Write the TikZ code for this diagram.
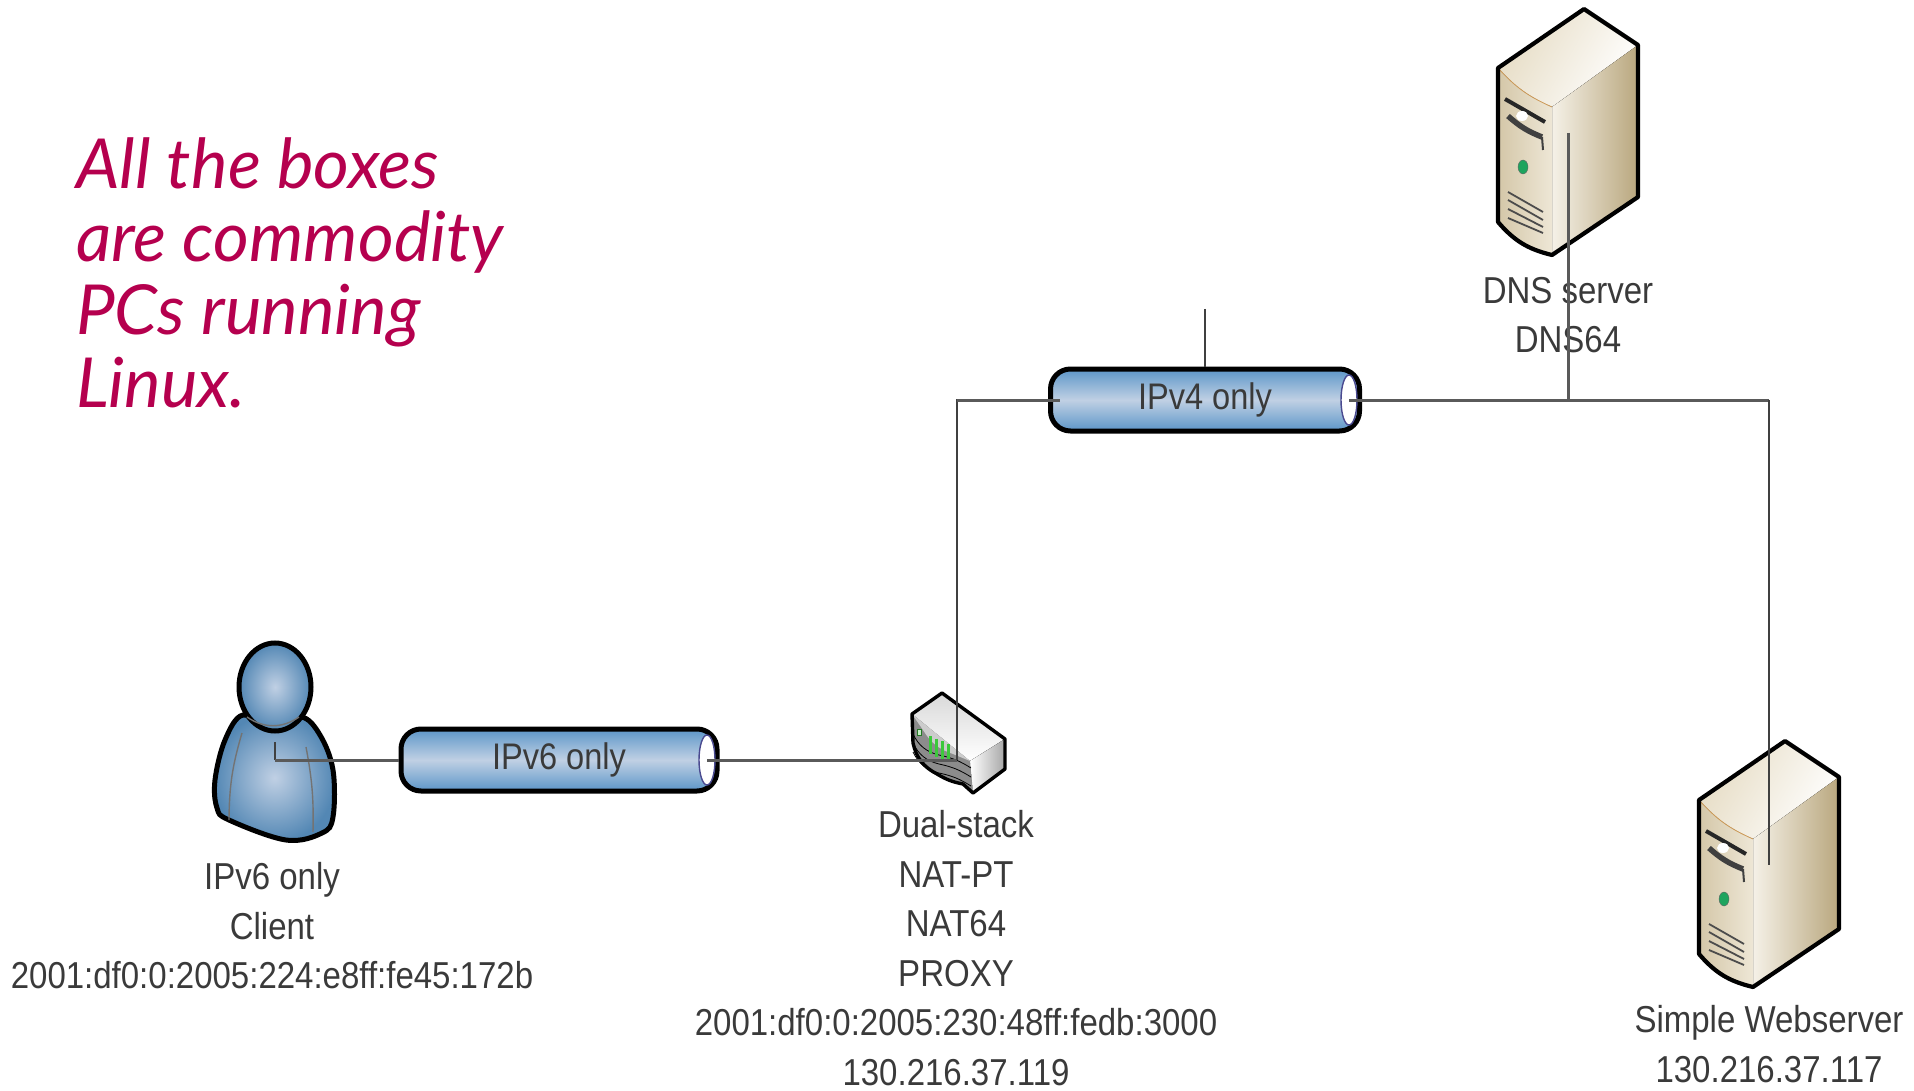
\documentclass[tikz,border=0pt]{standalone}
\usepackage{fontspec}
\usetikzlibrary{positioning,shapes.geometric}
\newfontfamily\labelfont[FakeStretch=0.88]{Liberation Sans}
\newfontfamily\notefont{Lato Italic}
\definecolor{netTexto}{HTML}{3A3A3A}
\definecolor{netCable}{HTML}{5A5A5A}
\definecolor{netAzul}{HTML}{5C96C8}
\definecolor{netClaro}{HTML}{C0D0E4}
\definecolor{netNota}{HTML}{B5004E}
\definecolor{netCrema}{HTML}{E6DCC4}
\definecolor{netOcre}{HTML}{B9A77E}
\definecolor{netVerde}{HTML}{3CC83C}
\definecolor{netMorado}{HTML}{4A4A90}
\tikzset{
  server/.pic={
    \fill[top color=netCrema, bottom color=white, shading angle=60] (-70,-65) -- (16,-124) -- (70,-88) -- (-16,-26) to[bend left=12] cycle;
    \fill[left color=white!60!netCrema, right color=netOcre] (-16,-26) -- (70,-88) -- (70,64) -- (-16,122) -- cycle;
    \fill[left color=netCrema!60!netOcre, right color=netCrema!70!white] (-70,-65) to[bend right=12] (-16,-26) -- (-16,122) to[bend left=18] (-70,89) -- cycle;
    \draw[netOcre!70!orange, thick] (-70,-65) to[bend right=12] (-16,-26);
    \draw[black, line width=4.2pt, line join=round, fill=none] (-70,-65) -- (16,-124) -- (70,-88) -- (70,64) -- (-16,122) to[bend left=18] (-70,89) -- cycle;
    \draw[black!85, line width=4pt] (-63,-34) -- (-23,-11);
    \draw[black!75, line width=5.5pt] (-60,-17) to[bend right=10] (-26,4);
    \draw[black!75, line width=2pt] (-26,4) -- (-25,17);
    \fill[white] (-46,-17) ellipse (6 and 5);
    \draw[black!60, fill=netVerde!50!teal] (-45,34) ellipse (5 and 7);
    \foreach \ly/\ry in {59/79,67/87,76/94,85/100}
      \draw[black!70, line width=1.8pt] (-60,\ly) -- (-25,\ry);
  },
  router/.pic={
    \fill[top color=white!85!black, bottom color=white] (-45,-46) -- (-15,-67) -- (48,-21) -- (13,1) -- cycle;
    \fill[left color=white, right color=black!35] (13,1) -- (48,-21) -- (48,9) -- (16,33) -- cycle;
    \fill[black!45] (-45,-46) -- (13,1) -- (16,33) -- (6,24) to[bend left=10] (-20,14) to[bend left=25] (-44,-17) -- cycle;
    \fill[white!80!black] (-34,-30) to[bend right=20] (-4,-6) -- (13,1) -- (-45,-46) -- cycle;
    \foreach \gy in {0,9,18}
      \draw[black, thick] (-44,{-26+\gy}) to[bend right=25] (-18,{-5+\gy}) to[bend left=10] (14,{8+\gy});
    \foreach \gx in {-27,-21,-15,-9}
      \draw[netVerde, line width=3pt] (\gx,{-24+(\gx+27)*.45}) -- (\gx,{-6+(\gx+27)*.45});
    \draw[netVerde!60!black, thick, fill=netVerde!30] (-40,-31) rectangle (-36,-25);
    \draw[black, line width=3.4pt, line join=round] (-45,-46) -- (-15,-67) -- (48,-21) -- (48,9) -- (16,33) -- (6,24) to[bend left=10] (-20,14) to[bend left=25] (-44,-17) -- cycle;
  },
  person/.pic={
    \shadedraw[inner color=netClaro, outer color=netAzul!90!black, draw=black, line width=5pt]
      plot[smooth cycle, tension=.6] coordinates {(-32,-45) (-50,-20) (-60,20) (-58,48) (-46,60) (11,80) (47,73) (58,57) (58,10) (45,-25) (26,-43) (-3,-30)};
    \draw[black!55, line width=1.4pt] (-33,-27) to[bend right=8] (-46,60);
    \draw[black!55, line width=1.4pt] (31,-13) to[bend left=6] (38,72);
    \shadedraw[inner color=netClaro, outer color=netAzul!90!black, draw=black, line width=5pt] (0,-73) ellipse (36 and 44);
    \draw[black!55, line width=1.4pt] (-28,-43) to[bend right=35] (24,-43);
  }
}
\begin{document}
\begin{tikzpicture}[x=1pt, y=-1pt,
      tube/.style={rounded corners=20pt, draw=black, line width=5pt,
                   minimum width=#1, minimum height=62pt, inner sep=0pt,
                   top color=netAzul, bottom color=netAzul, middle color=netClaro,
                   text=netTexto, font=\labelfont\fontsize{37}{44}\selectfont},
      lbl/.style={align=center, inner sep=0pt, text=netTexto,
                  font=\labelfont\fontsize{37.5}{49.5}\selectfont},
      wire/.style={draw=netCable, line width=3pt},
      hilo/.style={draw=black!75, line width=2pt},
      boca/.style={draw=netMorado, fill=white, line width=1.4pt, ellipse, minimum width=16pt, minimum height=50pt, inner sep=0pt}]
    \useasboundingbox (0,0) rectangle (1914,1091);

    \node[lbl, anchor=north west, text=netNota, align=left,
          font=\notefont\fontsize{69}{73.3}\selectfont] (nota) at (76,137)
          {All the boxes\\are commodity\\PCs running\\Linux.};

    \coordinate (client) at (275,760);
    \coordinate (router) at (957,760);
    \coordinate (dns) at (1568,133);
    \coordinate (web) at (1769,865);

    \pic at (client) {person};
    \pic at (router) {router};
    \pic at (dns) {server};
    \pic at (web) {server};

    \node[tube=316pt] (v6) at (559,760) {IPv6 only};
    \node[tube=309pt] (v4) at (1205,400) {IPv4 only};
    \node[boca] (v6end) at (707,760) {};
    \node[boca] (v4end) at (1349,400) {};

    \node[lbl] (clientlbl) at (272,926) {IPv6 only\\Client\\2001:df0:0:2005:224:e8ff:fe45:172b};
    \node[lbl] (routerlbl) at (956,948) {Dual-stack\\NAT-PT\\NAT64\\PROXY\\2001:df0:0:2005:230:48ff:fedb:3000\\130.216.37.119};
    \node[lbl] (dnslbl) at (1568,315) {DNS server\\DNS64};
    \node[lbl] (weblbl) at (1769,1044) {Simple Webserver\\130.216.37.117};

    \coordinate (v4top) at (1205,309);
    \coordinate (junction) at (1568,400);
    \coordinate (corner) at (1769,400);

    \draw[hilo] (client) -- ++(0,-18);
    \draw[wire] (client) -- (v6.west);
    \draw[wire] (v6end.center) -- (router);
    \draw[hilo] (router) |- (v4.west);
    \draw[wire, shorten >=-12pt] (router |- v4.west) -- (v4.west);
    \draw[hilo] (v4top) -- (v4.north);
    \draw[wire] (v4end.center) -- (corner);
    \draw[wire] (dns) -- (junction);
    \draw[hilo] (corner) -- (web);
\end{tikzpicture}
\end{document}
